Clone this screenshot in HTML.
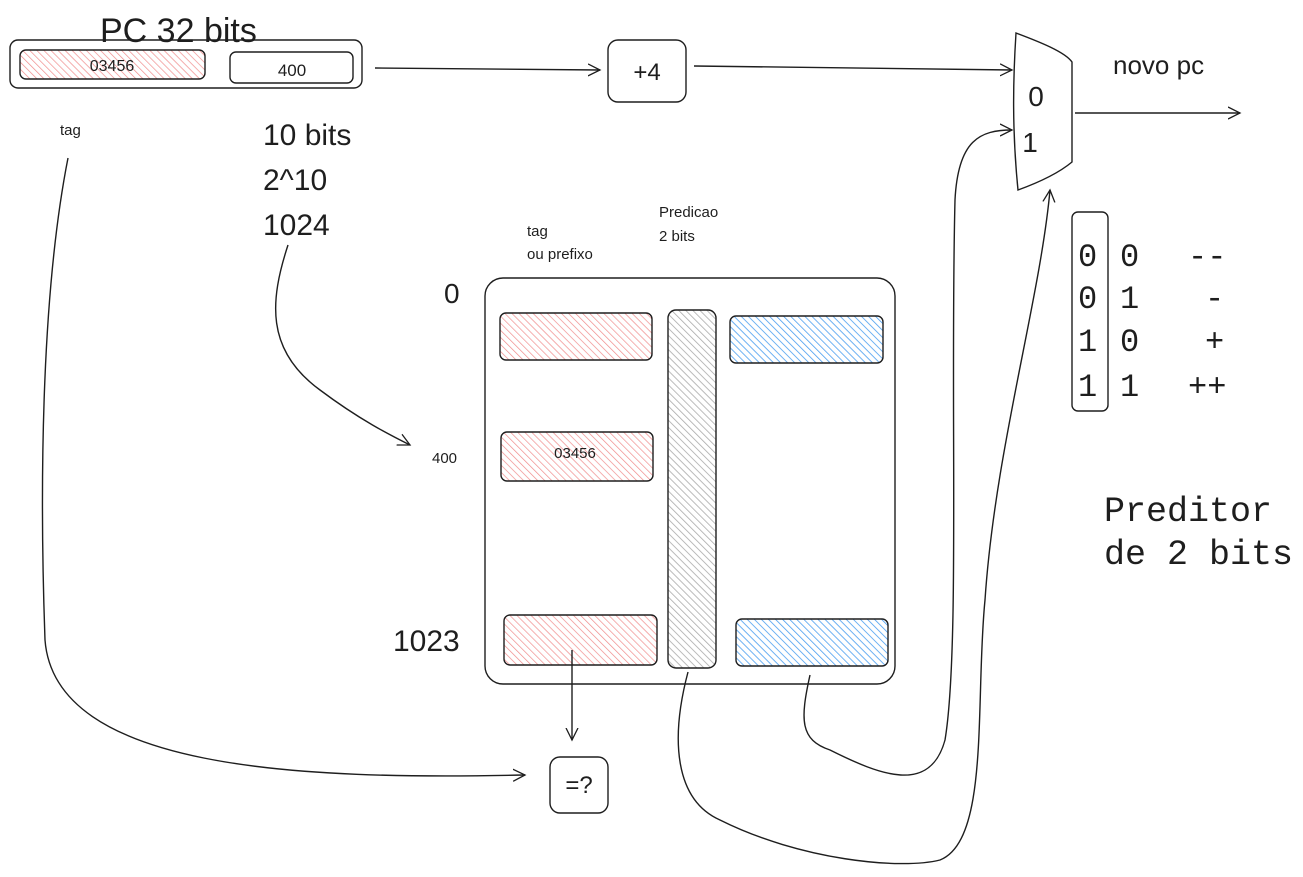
<!DOCTYPE html>
<html><head><meta charset="utf-8"><style>
html,body{margin:0;padding:0;background:#fff;}
svg{display:block;}
text{font-family:"Liberation Sans",sans-serif;fill:#1e1e1e;}
.m{font-family:"Liberation Mono",monospace;}
</style></head><body>
<svg width="1303" height="877" viewBox="0 0 1303 877" xmlns="http://www.w3.org/2000/svg">
<defs>
<pattern id="red" width="5" height="5" patternUnits="userSpaceOnUse" patternTransform="rotate(-45)">
<rect width="5" height="5" fill="#fff"/><line x1="0" y1="0" x2="0" y2="5" stroke="#f08c8c" stroke-width="1.4"/></pattern>
<pattern id="blue" width="5" height="5" patternUnits="userSpaceOnUse" patternTransform="rotate(-45)">
<rect width="5" height="5" fill="#fff"/><line x1="0" y1="0" x2="0" y2="5" stroke="#4a9ef0" stroke-width="1.6"/></pattern>
<pattern id="gray" width="5" height="5" patternUnits="userSpaceOnUse" patternTransform="rotate(-45)">
<rect width="5" height="5" fill="#fff"/><line x1="0" y1="0" x2="0" y2="5" stroke="#aaa" stroke-width="1.6"/></pattern>
<marker id="ar" markerWidth="14" markerHeight="14" refX="12" refY="7" orient="auto" markerUnits="userSpaceOnUse">
<path d="M0,1 L12,7 L0,13" fill="none" stroke="#1e1e1e" stroke-width="1.3"/></marker>
</defs>
<g fill="none" stroke="#1e1e1e" stroke-width="1.4">
<rect x="10" y="40" width="352" height="48" rx="8"/>
<rect x="20" y="50" width="185" height="29" rx="6" fill="url(#red)"/>
<rect x="230" y="52" width="123" height="31" rx="6"/>
<path d="M375,68 L600,70" marker-end="url(#ar)"/>
<rect x="608" y="40" width="78" height="62" rx="10"/>
<path d="M694,66 L1012,70" marker-end="url(#ar)"/>
<path d="M1016,33 C1040,42 1065,52 1072,62 L1072,162 C1060,172 1040,182 1018,190 C1012,130 1013,80 1016,33 Z"/>
<path d="M1075,113 L1240,113" marker-end="url(#ar)"/>
<rect x="1072" y="212" width="36" height="199" rx="6"/>
<rect x="485" y="278" width="410" height="406" rx="18"/>
<rect x="500" y="313" width="152" height="47" rx="6" fill="url(#red)"/>
<rect x="501" y="432" width="152" height="49" rx="6" fill="url(#red)"/>
<rect x="504" y="615" width="153" height="50" rx="6" fill="url(#red)"/>
<rect x="668" y="310" width="48" height="358" rx="8" fill="url(#gray)"/>
<rect x="730" y="316" width="153" height="47" rx="6" fill="url(#blue)"/>
<rect x="736" y="619" width="152" height="47" rx="6" fill="url(#blue)"/>
<rect x="550" y="757" width="58" height="56" rx="10"/>
<path d="M68,158 C40,300 40,500 45,640 C55,770 300,780 525,775" marker-end="url(#ar)"/>
<path d="M288,245 C270,300 265,350 320,390 C360,420 390,435 410,445" marker-end="url(#ar)"/>
<path d="M572,650 L572,740" marker-end="url(#ar)"/>
<path d="M688,672 C670,740 675,800 720,820 C800,860 900,870 940,860 C990,840 975,700 985,600 C995,450 1040,300 1050,190" marker-end="url(#ar)"/>
<path d="M810,675 C800,720 800,740 830,750 C880,775 930,795 945,740 C960,650 950,400 955,200 C958,140 980,130 1012,130" marker-end="url(#ar)"/>
</g>
<text x="100" y="42" font-size="34">PC 32 bits</text>
<text x="112" y="71" font-size="16" text-anchor="middle">03456</text>
<text x="292" y="76" font-size="17" text-anchor="middle">400</text>
<text x="647" y="80" font-size="24" text-anchor="middle">+4</text>
<text x="1036" y="106" font-size="28" text-anchor="middle">0</text>
<text x="1030" y="152" font-size="28" text-anchor="middle">1</text>
<text x="1113" y="74" font-size="26">novo pc</text>
<text x="60" y="135" font-size="15">tag</text>
<text x="263" y="145" font-size="30">10 bits</text>
<text x="263" y="190" font-size="30">2^10</text>
<text x="263" y="235" font-size="30">1024</text>
<text x="527" y="236" font-size="15">tag</text>
<text x="527" y="259" font-size="15">ou prefixo</text>
<text x="659" y="217" font-size="15">Predicao</text>
<text x="659" y="241" font-size="15">2 bits</text>
<text x="444" y="303" font-size="28">0</text>
<text x="432" y="463" font-size="15">400</text>
<text x="393" y="651" font-size="30">1023</text>
<text x="575" y="458" font-size="15" text-anchor="middle">03456</text>
<text x="579" y="793" font-size="24" text-anchor="middle">=?</text>
<g font-size="32">
<text class="m" x="1078" y="266">0</text><text class="m" x="1120" y="266">0</text><text class="m" x="1188" y="266">--</text>
<text class="m" x="1078" y="308">0</text><text class="m" x="1120" y="308">1</text><text class="m" x="1205" y="308">-</text>
<text class="m" x="1078" y="351">1</text><text class="m" x="1120" y="351">0</text><text class="m" x="1205" y="351">+</text>
<text class="m" x="1078" y="396">1</text><text class="m" x="1120" y="396">1</text><text class="m" x="1188" y="396">++</text>
<text class="m" x="1104" y="521" font-size="35">Preditor</text>
<text class="m" x="1104" y="564" font-size="35">de 2 bits</text>
</g>
</svg>
</body></html>
